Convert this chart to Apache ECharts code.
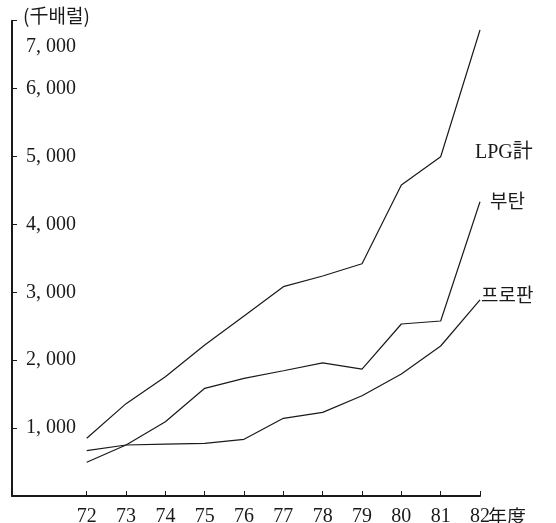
<!DOCTYPE html>
<html>
<head>
<meta charset="utf-8">
<script src="https://cdn.jsdelivr.net/npm/echarts@6/dist/echarts.min.js"></script>
<style>
html,body{margin:0;padding:0;background:#fff;}
#chart{width:556px;height:523px;}
</style>
</head>
<body>
<div id="chart"></div>
<script>
// Data
var years = [72, 73, 74, 75, 76, 77, 78, 79, 80, 81, 82];
var lpgTotal = [850, 1360, 1757, 2224, 2650, 3083, 3240, 3420, 4580, 4997, 6863];
var butane   = [496, 751, 1094, 1586, 1733, 1845, 1960, 1868, 2533, 2577, 4334];
var propane  = [667, 751, 765, 776, 835, 1144, 1232, 1477, 1797, 2209, 2887];
var seriesNames = ['LPG計', '부탄', '프로판'];
var yTickValues = [1000, 2000, 3000, 4000, 5000, 6000, 7000];
var yTickLabels = ['1, 000', '2, 000', '3, 000', '4, 000', '5, 000', '6, 000', '7, 000'];
var yAxisName = '(千배럴)';
var xAxisName = '年度';

function pairs(vals) { return years.map(function (y, i) { return [y, vals[i]]; }); }

var serif = '"Liberation Serif", "DejaVu Serif", serif';
var cjk = '"Liberation Serif", "Noto Sans CJK KR", serif';
var ink = '#1a1a1a';

var chart = echarts.init(document.getElementById('chart'), null, {renderer: 'canvas'});
var lineStyle = {color: ink, width: 1.2};

chart.setOption({
  backgroundColor: '#ffffff',
  animation: false,
  grid: {left: 12, right: 76, top: 20.7, bottom: 27, outerBoundsMode: 'none', containLabel: false},
  xAxis: {
    type: 'value', min: 70.1, max: 82,
    name: xAxisName, nameLocation: 'end', nameGap: 0, nameMoveOverlap: false,
    nameTextStyle: {fontFamily: '"Noto Sans CJK KR"', fontSize: 19, color: ink, align: 'left', verticalAlign: 'top', padding: [11, 0, 0, 8]},
    axisLine: {lineStyle: {color: ink, width: 2}},
    axisTick: {inside: true, length: 5, customValues: years, lineStyle: {color: ink, width: 1}},
    axisLabel: {customValues: years, margin: 11, fontFamily: serif, fontSize: 20, color: ink},
    splitLine: {show: false}
  },
  yAxis: {
    type: 'value', min: 0, max: 7000,
    name: yAxisName, nameLocation: 'end', nameGap: 5, nameMoveOverlap: false,
    nameTextStyle: {fontFamily: '"Noto Sans CJK KR"', fontSize: 19, color: ink, align: 'left', verticalAlign: 'middle', padding: [0, 0, 0, 11]},
    axisLine: {show: true, lineStyle: {color: ink, width: 2}},
    axisTick: {show: true, inside: true, length: 5, customValues: yTickValues, lineStyle: {color: ink, width: 1}},
    axisLabel: {
      inside: true, margin: 14, customValues: yTickValues,
      fontFamily: serif, fontSize: 20, color: ink,
      formatter: function (v) {
        var i = yTickValues.indexOf(v);
        if (i < 0) return '';
        if (v === 7000) return '{top|' + yTickLabels[i] + '}';
        return yTickLabels[i];
      },
      rich: {top: {fontFamily: serif, fontSize: 20, color: ink, padding: [52, 0, 0, 0]}}
    },
    splitLine: {show: false}
  },
  series: [
    {name: seriesNames[0], type: 'line', data: pairs(lpgTotal), symbol: 'none', lineStyle: lineStyle},
    {name: seriesNames[1], type: 'line', data: pairs(butane), symbol: 'none', lineStyle: lineStyle},
    {name: seriesNames[2], type: 'line', data: pairs(propane), symbol: 'none', lineStyle: lineStyle}
  ],
  graphic: [
    {type: 'text', left: 475, top: 143, style: {text: seriesNames[0], font: '20px ' + cjk, fill: ink}},
    {type: 'text', left: 490, top: 191, style: {text: seriesNames[1], font: '19px "Noto Sans CJK KR"', fill: ink}},
    {type: 'text', left: 481, top: 285, style: {text: seriesNames[2], font: '19px "Noto Sans CJK KR"', fill: ink}}
  ]
});
</script>
</body>
</html>
